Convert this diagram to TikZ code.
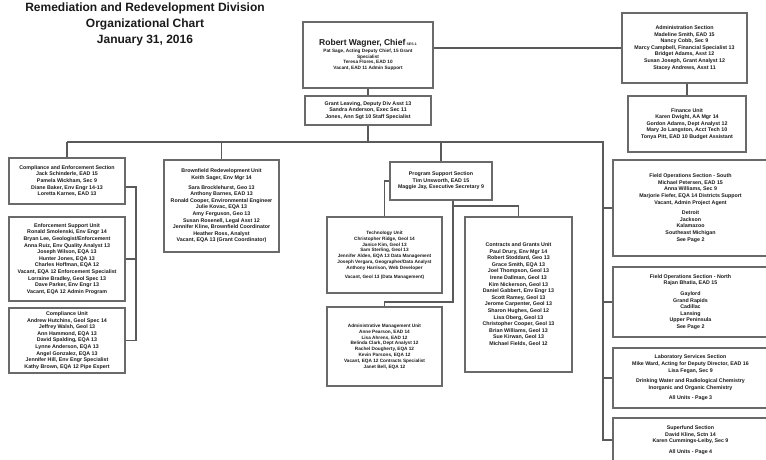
\documentclass[tikz,border=0pt]{standalone}
\usepackage{fontspec}
\setmainfont{Liberation Sans}
\definecolor{boxgray}{HTML}{6A6A6A}
\definecolor{linegray}{HTML}{5A5A5A}
\definecolor{txtgray}{HTML}{1A1A1A}
\begin{document}
\begin{tikzpicture}[x=1pt,y=-1pt]
\tikzset{
  orgbox/.style={draw=boxgray, line width=1.6pt, rectangle, inner sep=1pt, align=center,
    text=txtgray, font=\fontsize{5.3}{6.6}\selectfont\bfseries},
  smallbox/.style={orgbox, font=\fontsize{4.7}{5.8}\selectfont\bfseries},
  link/.style={draw=linegray, line width=1.2pt},
  titletext/.style={align=center, text=txtgray, font=\fontsize{12}{16}\selectfont\bfseries}
}
\useasboundingbox (0,0) rectangle (766,460);

% title
\node[titletext] (title) at (145,24) {Remediation and Redevelopment Division\\Organizational Chart\\January 31, 2016};

% chief and deputy
\node[smallbox, minimum width=130pt, minimum height=66pt] (CH) at (368,55)
  {{\fontsize{8.5}{10}\selectfont Robert Wagner, Chief} {\fontsize{3.5}{4}\selectfont SES-1}\\[1pt]
   Pat Sage, Acting Deputy Chief, 15 Grant\\Specialist\\Teresa Flores, EAD 10\\Vacant, EAD 11 Admin Support};
\node[orgbox, minimum width=126pt, minimum height=29pt] (DP) at (368,110.5)
  {Grant Leaving, Deputy Div Asst 13\\Sandra Anderson, Exec Sec 11\\Jones, Ann Sgt 10 Staff Specialist};

% top right
\node[orgbox, minimum width=125pt, minimum height=70pt] (AD) at (684.5,48)
  {Administration Section\\Madeline Smith, EAD 15\\Nancy Cobb, Sec 9\\Marcy Campbell, Financial Specialist 13\\Bridget Adams, Asst 12\\Susan Joseph, Grant Analyst 12\\Stacey Andrews, Asst 11};
\node[orgbox, minimum width=118pt, minimum height=56pt] (FI) at (687,124)
  {Finance Unit\\Karen Dwight, AA Mgr 14\\Gordon Adams, Dept Analyst 12\\Mary Jo Langston, Acct Tech 10\\Tonya Pitt, EAD 10 Budget Assistant};

% left column
\node[orgbox, minimum width=116pt, minimum height=46pt] (L1) at (67,181)
  {Compliance and Enforcement Section\\Jack Schinderle, EAD 15\\Pamela Wickham, Sec 9\\Diane Baker, Env Engr 14-13\\Loretta Karnes, EAD 13};
\node[orgbox, minimum width=116pt, minimum height=84pt] (L2) at (67,259)
  {Enforcement Support Unit\\Ronald Smolenski, Env Engr 14\\Bryan Lee, Geologist/Enforcement\\Anna Ruiz, Env Quality Analyst 13\\Joseph Wilson, EQA 13\\Hunter Jones, EQA 13\\Charles Hoffman, EQA 12\\Vacant, EQA 12 Enforcement Specialist\\Lorraine Bradley, Geol Spec 13\\Dave Parker, Env Engr 13\\Vacant, EQA 12 Admin Program};
\node[orgbox, minimum width=116pt, minimum height=65pt] (L3) at (67,340.5)
  {Compliance Unit\\Andrew Hutchins, Geol Spec 14\\Jeffrey Walsh, Geol 13\\Ann Hammond, EQA 13\\David Spalding, EQA 13\\Lynne Anderson, EQA 13\\Angel Gonzalez, EQA 13\\Jennifer Hill, Env Engr Specialist\\Kathy Brown, EQA 12 Pipe Expert};

% second column
\node[orgbox, minimum width=115pt, minimum height=92pt] (C2) at (221.5,206)
  {Brownfield Redevelopment Unit\\Keith Sager, Env Mgr 14\\[3pt]
   Sara Brocklehurst, Geo 13\\Anthony Barnes, EAD 13\\Ronald Cooper, Environmental Engineer\\Julie Kovac, EQA 13\\Amy Ferguson, Geo 13\\Susan Rosenell, Legal Asst 12\\Jennifer Kline, Brownfield Coordinator\\Heather Ross, Analyst\\Vacant, EQA 13 (Grant Coordinator)};

% program support
\node[orgbox, minimum width=102pt, minimum height=38pt] (PS) at (441,181)
  {Program Support Section\\Tim Unsworth, EAD 15\\Maggie Jay, Executive Secretary 9};
\node[smallbox, minimum width=115pt, minimum height=76pt] (TU) at (384.5,255)
  {Technology Unit\\Christopher Ridge, Geol 14\\Janice Kim, Geol 13\\Sam Sterling, Geol 13\\Jennifer Alden, EQA 13 Data Management\\Joseph Vergara, Geographer/Data Analyst\\Anthony Harrison, Web Developer\\[3pt]Vacant, Geol 13 (Data Management)};
\node[smallbox, minimum width=115pt, minimum height=79pt] (AU) at (384.5,346.5)
  {Administrative Management Unit\\Anne Pearson, EAD 14\\Lisa Ahrens, EAD 12\\Belinda Clark, Dept Analyst 12\\Rachel Dougherty, EQA 12\\Kevin Parsons, EQA 12\\Vacant, EQA 12 Contracts Specialist\\Janet Bell, EQA 12};
\node[orgbox, minimum width=107pt, minimum height=155pt] (GR) at (518.5,294.5)
  {Contracts and Grants Unit\\Paul Drury, Env Mgr 14\\Robert Stoddard, Geo 13\\Grace Smith, EQA 13\\Joel Thompson, Geol 13\\Irene Dallman, Geol 13\\Kim Nickerson, Geol 13\\Daniel Gabbert, Env Engr 13\\Scott Ramey, Geol 13\\Jerome Carpenter, Geol 13\\Sharon Hughes, Geol 12\\Lisa Oberg, Geol 13\\Christopher Cooper, Geol 13\\Brian Williams, Geol 13\\Sue Kirwan, Geol 13\\Michael Fields, Geol 12};

% right column
\node[orgbox, minimum width=155pt, minimum height=96pt] (R1) at (690.5,208)
  {Field Operations Section - South\\Michael Petersen, EAD 15\\Anna Williams, Sec 9\\Marjorie Fiefer, EQA 14 Districts Support\\Vacant, Admin Project Agent\\[4pt]
   Detroit\\Jackson\\Kalamazoo\\Southeast Michigan\\See Page 2};
\node[orgbox, minimum width=155pt, minimum height=70pt] (R2) at (690.5,302)
  {Field Operations Section - North\\Rajan Bhatia, EAD 15\\[4pt]Gaylord\\Grand Rapids\\Cadillac\\Lansing\\Upper Peninsula\\See Page 2};
\node[orgbox, minimum width=155pt, minimum height=60pt] (R3) at (690.5,378)
  {Laboratory Services Section\\Mike Ward, Acting for Deputy Director, EAD 16\\Lisa Fegan, Sec 9\\[4pt]
   Drinking Water and Radiological Chemistry\\Inorganic and Organic Chemistry\\[4pt]All Units - Page 3};
\node[orgbox, minimum width=155pt, minimum height=44pt] (R4) at (690.5,440)
  {Superfund Section\\David Kline, Sctn 14\\Karen Cummings-Leiby, Sec 9\\[4pt]All Units - Page 4};

% connectors
\coordinate (busL) at (67,142);
\coordinate (busR) at (603,142);
\draw[link] (CH.south) -- (DP.north);
\draw[link] (CH.east |- AD.west) -- (AD.west);
\draw[link] (FI.north |- AD.south) -- (FI.north);
\draw[link] (DP.south) -- (DP.south |- busL);
\draw[link] (busL) -- (busR) -- (busR |- R4.west) -- (R4.west);
\draw[link] (busL) -- (L1.north);
\draw[link] (C2.north |- busL) -- (C2.north);
\draw[link] (PS.north |- busL) -- (PS.north);
\draw[link] (busR |- R1.west) -- (R1.west);
\draw[link] (busR |- R2.west) -- (R2.west);
\draw[link] (busR |- R3.west) -- (R3.west);

\coordinate (lbend) at (136,187);
\draw[link] (lbend -| L1.east) -- (lbend) |- (L3.east);
\draw[link] (lbend |- L2.east) -- (L2.east);

\coordinate (pj) at (453,302);
\coordinate (gj) at (453,206);
\draw[link] (PS.west) -| (TU.north);
\draw[link] (pj |- PS.south) -- (pj) -| (AU.north);
\draw[link] (gj) -| (GR.north);
\end{tikzpicture}
\end{document}
